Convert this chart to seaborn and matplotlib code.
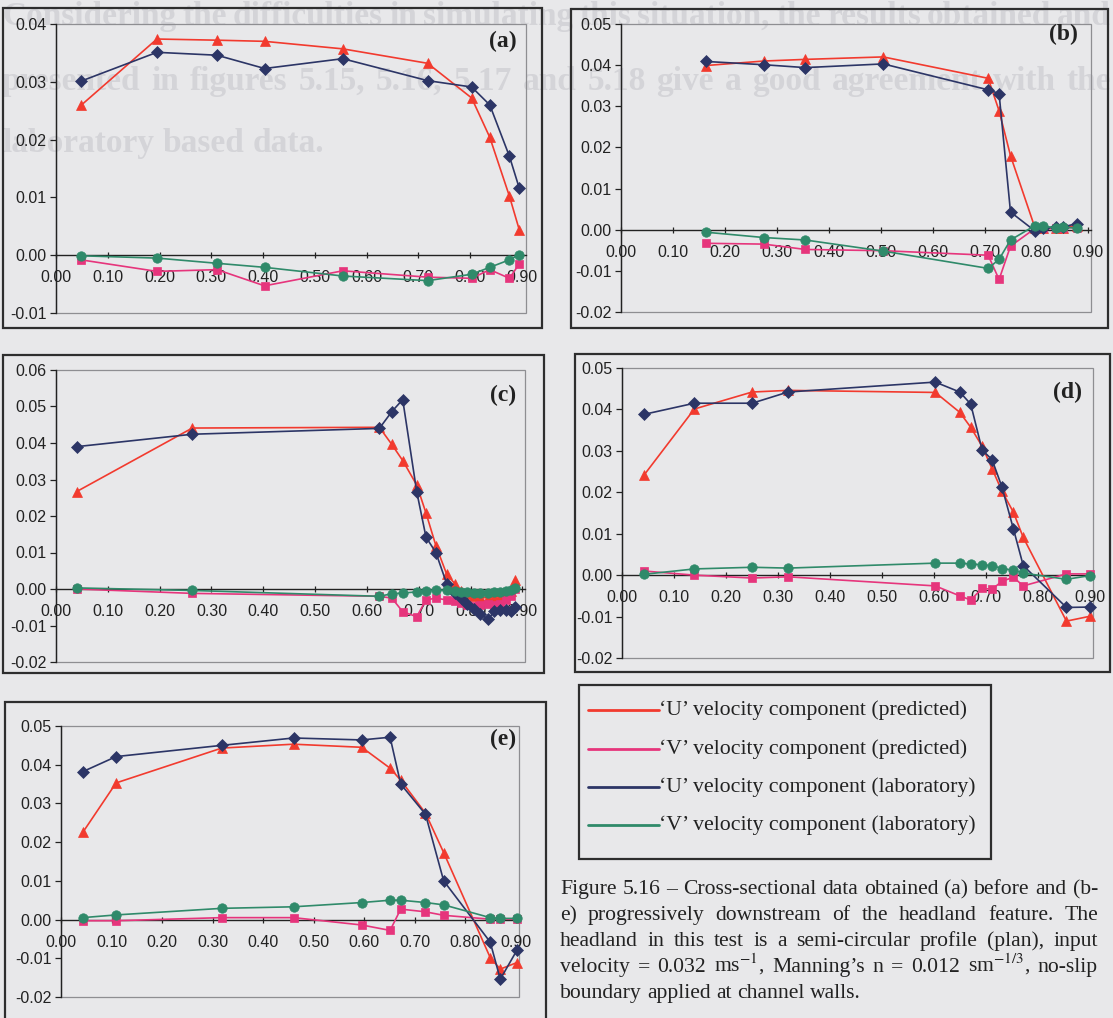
import matplotlib
matplotlib.use("Agg")
import matplotlib.pyplot as plt
import seaborn as sns
from matplotlib.patches import Rectangle
from matplotlib.lines import Line2D
from matplotlib.ticker import MultipleLocator, FuncFormatter

# ---------------- data: cross-sections (a) to (e) ----------------
# distance across channel (m) and depth-averaged velocity components (m/s)
x_a = [0.048, 0.195, 0.311, 0.403, 0.554, 0.718, 0.803, 0.838, 0.876, 0.895]
u_pred_a = [0.0259, 0.0374, 0.0372, 0.0370, 0.0357, 0.0332, 0.0272, 0.0204, 0.0102, 0.0044]
v_pred_a = [-0.0008, -0.0028, -0.0025, -0.0053, -0.0027, -0.0038, -0.0040, -0.0025, -0.0040, -0.0015]
u_lab_a = [0.0301, 0.0351, 0.0346, 0.0323, 0.0340, 0.0302, 0.0291, 0.0260, 0.0171, 0.0116]
v_lab_a = [-0.0001, -0.0005, -0.0014, -0.0021, -0.0036, -0.0044, -0.0033, -0.0021, -0.0008, 0.0001]

x_b = [0.163, 0.275, 0.355, 0.505, 0.707, 0.728, 0.750, 0.797, 0.812, 0.838, 0.852, 0.878]
u_pred_b = [0.0399, 0.0410, 0.0414, 0.0420, 0.0368, 0.0289, 0.0180, 0.0005, 0.0004, 0.0003, 0.0005, 0.0010]
v_pred_b = [-0.0033, -0.0035, -0.0048, -0.0051, -0.0062, -0.0121, -0.0040, 0.0003, 0.0003, 0.0003, 0.0005, 0.0005]
u_lab_b = [0.0409, 0.0401, 0.0394, 0.0403, 0.0340, 0.0331, 0.0043, -0.0003, 0.0005, 0.0006, 0.0007, 0.0015]
v_lab_b = [-0.0006, -0.0019, -0.0025, -0.0052, -0.0094, -0.0072, -0.0025, 0.0010, 0.0008, 0.0005, 0.0006, 0.0004]

x_c = [0.040, 0.263, 0.624, 0.648, 0.669, 0.696, 0.714, 0.733, 0.754, 0.770,
       0.782, 0.794, 0.806, 0.818, 0.834, 0.846, 0.857, 0.868, 0.878, 0.885]
u_pred_c = [0.0267, 0.0441, 0.0443, 0.0396, 0.0352, 0.0285, 0.0208, 0.0119, 0.0040, 0.0014,
            -0.0005, -0.0015, -0.0020, -0.0022, -0.0025, -0.0022, -0.0018, -0.0012, -0.0005, 0.0026]
v_pred_c = [0.0000, -0.0012, -0.0020, -0.0025, -0.0062, -0.0076, -0.0030, -0.0025, -0.0030, -0.0034,
            -0.0039, -0.0044, -0.0046, -0.0044, -0.0040, -0.0045, -0.0040, -0.0030, -0.0020, 0.0000]
u_lab_c = [0.0390, 0.0424, 0.0440, 0.0486, 0.0519, 0.0267, 0.0142, 0.0100, 0.0014, -0.0010,
           -0.0025, -0.0040, -0.0055, -0.0068, -0.0083, -0.0060, -0.0058, -0.0058, -0.0060, -0.0050]
v_lab_c = [0.0003, -0.0004, -0.0020, -0.0013, -0.0011, -0.0008, -0.0005, -0.0003, -0.0004, -0.0006,
           -0.0008, -0.0009, -0.0010, -0.0010, -0.0010, -0.0009, -0.0008, -0.0006, -0.0004, 0.0002]

x_d = [0.042, 0.139, 0.250, 0.319, 0.602, 0.649, 0.670, 0.692, 0.711, 0.730, 0.752, 0.771, 0.854, 0.900]
u_pred_d = [0.0241, 0.0401, 0.0442, 0.0446, 0.0441, 0.0393, 0.0357, 0.0311, 0.0257, 0.0203, 0.0152, 0.0091, -0.0111, -0.0099]
v_pred_d = [0.0010, 0.0000, -0.0007, -0.0004, -0.0026, -0.0050, -0.0060, -0.0032, -0.0034, -0.0015, -0.0005, -0.0026, 0.0003, 0.0003]
u_lab_d = [0.0388, 0.0415, 0.0415, 0.0442, 0.0466, 0.0442, 0.0413, 0.0302, 0.0279, 0.0213, 0.0112, 0.0023, -0.0078, -0.0077]
v_lab_d = [0.0002, 0.0015, 0.0019, 0.0017, 0.0029, 0.0029, 0.0027, 0.0025, 0.0023, 0.0016, 0.0012, 0.0005, -0.0010, -0.0001]

x_e = [0.043, 0.109, 0.318, 0.460, 0.595, 0.651, 0.672, 0.721, 0.757, 0.849, 0.869, 0.902]
u_pred_e = [0.0225, 0.0353, 0.0443, 0.0453, 0.0445, 0.0391, 0.0360, 0.0275, 0.0173, -0.0098, -0.0128, -0.0111]
v_pred_e = [-0.0003, -0.0003, 0.0005, 0.0005, -0.0014, -0.0028, 0.0027, 0.0020, 0.0011, 0.0001, 0.0001, 0.0001]
u_lab_e = [0.0382, 0.0421, 0.0450, 0.0469, 0.0464, 0.0471, 0.0350, 0.0272, 0.0100, -0.0058, -0.0154, -0.0079]
v_lab_e = [0.0005, 0.0012, 0.0029, 0.0033, 0.0044, 0.0050, 0.0050, 0.0044, 0.0038, 0.0005, 0.0003, 0.0003]

series_labels = ["\u2018U\u2019 velocity component (predicted)",
                 "\u2018V\u2019 velocity component (predicted)",
                 "\u2018U\u2019 velocity component (laboratory)",
                 "\u2018V\u2019 velocity component (laboratory)"]
panel_tags = ["(a)", "(b)", "(c)", "(d)", "(e)"]
y_limits = [(-0.01, 0.04), (-0.02, 0.05), (-0.02, 0.06), (-0.02, 0.05), (-0.02, 0.05)]

caption_lines = [
    "Figure 5.16 \u2013 Cross-sectional data obtained (a) before and (b-",
    "e) progressively downstream of the headland feature.  The",
    "headland in this test is a semi-circular profile (plan), input",
    "velocity = 0.032 ms$^{-1}$, Manning\u2019s n = 0.012 sm$^{-1/3}$, no-slip",
    "boundary applied at channel walls.",
]
reverse_page_lines = [
    "Considering the difficulties in simulating this situation, the results obtained and",
    "presented in figures 5.15, 5.16, 5.17 and 5.18 give a good agreement with the",
    "laboratory based data.",
]

# ---------------- style ----------------
sns.set_theme(style="white")
plt.rcParams["font.family"] = ["Liberation Sans", "DejaVu Sans"]
plt.rcParams["axes.unicode_minus"] = False
plt.rcParams["mathtext.fontset"] = "stix"

PAGE = "#e8e8ea"
INK = "#222222"
FRAME = "#2e2e2e"
BORDER = "#8e8e92"
SERIF = ["Liberation Serif", "DejaVu Serif"]
COLORS = ["#f23a2e", "#e6357c", "#2c3566", "#2f8a6a"]
MARKERS = ["^", "s", "D", "o"]
MSIZES = [7.0, 6.2, 5.8, 6.8]

W, H = 1113, 1018
fig = plt.figure(figsize=(W / 100, H / 100), dpi=100, facecolor=PAGE)
renderer = fig.canvas.get_renderer()


def fx(x):
    return x / W


def fy(y):
    return 1 - y / H


def text_px(x, y, s, **kw):
    return fig.text(fx(x), fy(y), s, **kw)


def width_px(t):
    return t.get_window_extent(renderer).width


def fit_size(s, target, **kw):
    t = fig.text(0, 0, s, fontsize=20, **kw)
    w = width_px(t)
    t.remove()
    return 20 * target / w


def set_line(s, x0, x1, y, size, justify=True, **kw):
    words = s.split()
    ts = [text_px(x0, y, w, fontsize=size, ha="left", va="baseline", **kw) for w in words]
    widths = [width_px(t) for t in ts]
    if justify and len(words) > 1:
        gap = (x1 - x0 - sum(widths)) / (len(words) - 1)
    else:
        gap = size * 0.25 * 100 / 72
    x = x0
    for t, w in zip(ts, widths):
        t.set_x(fx(x))
        x += w + gap


# faint show-through of the reverse page
for i, line in enumerate(reverse_page_lines):
    set_line(line, 2, 1111, [25, 90, 152][i], 24, justify=(i < 2),
             family=SERIF, weight="bold", color="#d4d4d8", zorder=-1)


def frame_px(l, t, r, b):
    fig.patches.append(Rectangle((fx(l), fy(b)), (r - l) / W, (b - t) / H,
                                 transform=fig.transFigure, fill=False,
                                 edgecolor=FRAME, linewidth=1.6, zorder=1))


panels = [
    (x_a, [u_pred_a, v_pred_a, u_lab_a, v_lab_a], (56, 24, 526, 313), (3, 8, 542, 328), 0.908, (0.979, 0.938)),
    (x_b, [u_pred_b, v_pred_b, u_lab_b, v_lab_b], (621, 24, 1091, 312), (571, 9, 1108, 328), 0.905, (0.972, 0.962)),
    (x_c, [u_pred_c, v_pred_c, u_lab_c, v_lab_c], (56, 370, 525, 662), (3, 355, 544, 673), 0.905, (0.981, 0.914)),
    (x_d, [u_pred_d, v_pred_d, u_lab_d, v_lab_d], (622, 368, 1093, 658), (575, 354, 1110, 672), 0.905, (0.977, 0.917)),
    (x_e, [u_pred_e, v_pred_e, u_lab_e, v_lab_e], (61, 726, 519, 997), (5, 702, 546, 1030), 0.906, (0.993, 0.952)),
]

fmt = FuncFormatter(lambda v, p: f"{0.0 if abs(v) < 1e-9 else v:.2f}")

for k, (xs, ys, box, frm, xmax, tagpos) in enumerate(panels):
    frame_px(*frm)
    l, t, r, b = box
    ax = fig.add_axes([fx(l), fy(b), (r - l) / W, (b - t) / H])
    ax.set_facecolor("none")
    for j in range(4):
        sns.lineplot(x=xs, y=ys[j], ax=ax, color=COLORS[j], marker=MARKERS[j],
                     markersize=MSIZES[j], markeredgecolor=COLORS[j], markeredgewidth=0.5,
                     linewidth=1.2, estimator=None, sort=False, legend=False,
                     zorder=3 + j, clip_on=False)
    ax.set_xlim(0, xmax)
    ax.set_ylim(*y_limits[k])
    ax.set_xlabel("")
    ax.set_ylabel("")
    for side in ("top", "right"):
        ax.spines[side].set_visible(False)
    ax.spines["bottom"].set_position(("data", 0))
    for side in ("left", "bottom"):
        ax.spines[side].set_color(INK)
        ax.spines[side].set_linewidth(1.0)
    ax.add_patch(Rectangle((0, 0), 1, 1, transform=ax.transAxes, fill=False,
                           edgecolor=BORDER, linewidth=0.9, zorder=0.5, clip_on=False))
    ax.xaxis.set_major_locator(MultipleLocator(0.1))
    ax.yaxis.set_major_locator(MultipleLocator(0.01))
    ax.xaxis.set_major_formatter(fmt)
    ax.yaxis.set_major_formatter(fmt)
    ax.tick_params(axis="y", direction="out", length=4, width=0.9, color=INK,
                   labelsize=11.5, labelcolor=INK, pad=3, left=True)
    ax.tick_params(axis="x", direction="inout", length=5, width=0.9, color=INK,
                   labelsize=11.5, labelcolor=INK, pad=8.5, bottom=True)
    ax.grid(False)
    ax.text(tagpos[0], tagpos[1], panel_tags[k], transform=ax.transAxes, ha="right",
            va="center", family=SERIF, weight="bold", fontsize=17, color=INK, zorder=10)

# legend box
fig.patches.append(Rectangle((fx(579), fy(859)), (991 - 579) / W, (859 - 685) / H,
                             transform=fig.transFigure, fill=False, edgecolor=FRAME,
                             linewidth=1.6, zorder=1))
leg_size = fit_size(series_labels[2], 316, family=SERIF)
for j, (lab, yy) in enumerate(zip(series_labels, [710, 749, 787, 825])):
    fig.lines.append(Line2D([fx(588), fx(659)], [fy(yy), fy(yy)], transform=fig.transFigure,
                            color=COLORS[j], linewidth=2.0))
    text_px(659, yy, lab, ha="left", va="center", family=SERIF, fontsize=leg_size, color=INK)

# caption
cap_size = fit_size(caption_lines[-1], 301, family=SERIF)
for i, line in enumerate(caption_lines):
    set_line(line, 560, 1098, 894 + 26 * i, cap_size, justify=(i < len(caption_lines) - 1),
             family=SERIF, color=INK)

fig.savefig("out.png", dpi=100, facecolor=PAGE)
